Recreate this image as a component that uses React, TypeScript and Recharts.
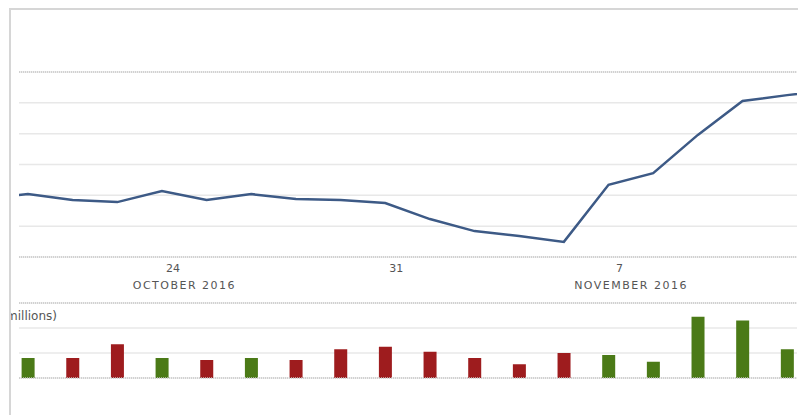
import React from "react"
import { Bar, BarChart, CartesianGrid, Cell, Line, LineChart, ReferenceLine, XAxis, YAxis } from "recharts"

// trading days Oct 18 .. Nov 14 2016 (index -1 and 18 run off the visible window)
const dayIndex = [-1, 0, 1, 2, 3, 4, 5, 6, 7, 8, 9, 10, 11, 12, 13, 14, 15, 16, 17, 18]
const closePrice = [118.8, 120.4, 118.5, 117.8, 121.4, 118.5, 120.4, 118.8, 118.5, 117.5, 112.3, 108.4, 106.8, 104.9, 123.4, 127.2, 139.6, 150.6, 152.5, 154.2]
const volume = [16, 16, 27, 16, 14.4, 16, 14.4, 23, 25, 21, 16, 11, 20, 18.4, 13, 49, 46, 23]

const tickDays = [3, 8, 13]
const tickLabels = ["24", "31", "7"]
const monthLabels = ["OCTOBER 2016", "", "NOVEMBER 2016"]
const priceTicks = [100, 110, 120, 130, 140, 150, 160]
const volumeTicks = [0, 20, 40, 60]

const priceData = dayIndex.map((i, k) => ({ i, price: closePrice[k] }))
const volumeData = volume.map((v, k) => ({
  i: k,
  volume: v,
  up: closePrice[k + 1] >= closePrice[k],
}))

const xDomain = [-0.2, 17.22]
const font = "'DejaVu Sans', sans-serif"

function DateTick({ x, y, payload }: any) {
  const idx = tickDays.indexOf(payload.value)
  return (
    <g fill="#555" fontFamily={font}>
      <text x={x + 11} y={y + 15} textAnchor="middle" fontSize={11}>
        {tickLabels[idx]}
      </text>
      {monthLabels[idx] && (
        <text x={x + 22.5} y={y + 32} textAnchor="middle" fontSize={11} letterSpacing={1.5}>
          {monthLabels[idx]}
        </text>
      )}
    </g>
  )
}

export default function App() {
  return (
    <div style={{ position: "absolute", left: 0, top: 0, width: 798, height: 415, background: "#fff", overflow: "hidden" }}>
      <div
        style={{
          position: "absolute",
          left: 9,
          top: 8,
          width: 789,
          height: 407,
          borderLeft: "2px solid #d6d6d6",
          borderTop: "2px solid #d6d6d6",
          overflow: "hidden",
        }}
      >
        <div style={{ position: "absolute", left: 0, top: 0 }}>
          <LineChart width={787} height={290} data={priceData} margin={{ top: 62, right: 1, left: 8, bottom: 3 }}>
            <CartesianGrid vertical={false} stroke="#e8e8e8" strokeWidth={1.5} />
            <XAxis
              dataKey="i"
              type="number"
              domain={xDomain}
              allowDataOverflow
              ticks={tickDays}
              height={40}
              axisLine={false}
              tickLine={false}
              tickSize={0}
              tickMargin={0}
              tick={<DateTick />}
            />
            <YAxis hide domain={[100, 160]} ticks={priceTicks} />
            <ReferenceLine y={160} stroke="#c8c8c8" strokeDasharray="1 1" strokeWidth={1.5} />
            <ReferenceLine y={100} stroke="#c8c8c8" strokeDasharray="1 1" strokeWidth={1.5} />
            <Line
              type="linear"
              dataKey="price"
              stroke="#3d5a86"
              strokeWidth={2.5}
              dot={false}
              isAnimationActive={false}
            />
          </LineChart>
        </div>
        <div style={{ position: "absolute", left: 0, top: 280 }}>
          <BarChart width={787} height={125} data={volumeData} margin={{ top: 13, right: 1, left: 8, bottom: 37 }}>
            <CartesianGrid vertical={false} stroke="#e8e8e8" strokeWidth={1.5} />
            <XAxis dataKey="i" type="number" domain={xDomain} allowDataOverflow hide />
            <YAxis hide domain={[0, 60]} ticks={volumeTicks} />
            <ReferenceLine y={60} stroke="#c8c8c8" strokeDasharray="1 1" strokeWidth={1.5} />
            <Bar dataKey="volume" barSize={13} isAnimationActive={false}>
              {volumeData.map((d) => (
                <Cell key={d.i} fill={d.up ? "#4b7a17" : "#9e1c1e"} />
              ))}
            </Bar>
            <ReferenceLine y={0} stroke="#c8c8c8" strokeDasharray="1 1" strokeWidth={1.5} />
          </BarChart>
          <svg width={120} height={40} style={{ position: "absolute", left: 0, top: 20 }}>
            <text x={46} y={10} textAnchor="end" fontSize={12} fill="#555" fontFamily={font}>
              Volume (millions)
            </text>
          </svg>
        </div>
      </div>
    </div>
  )
}
